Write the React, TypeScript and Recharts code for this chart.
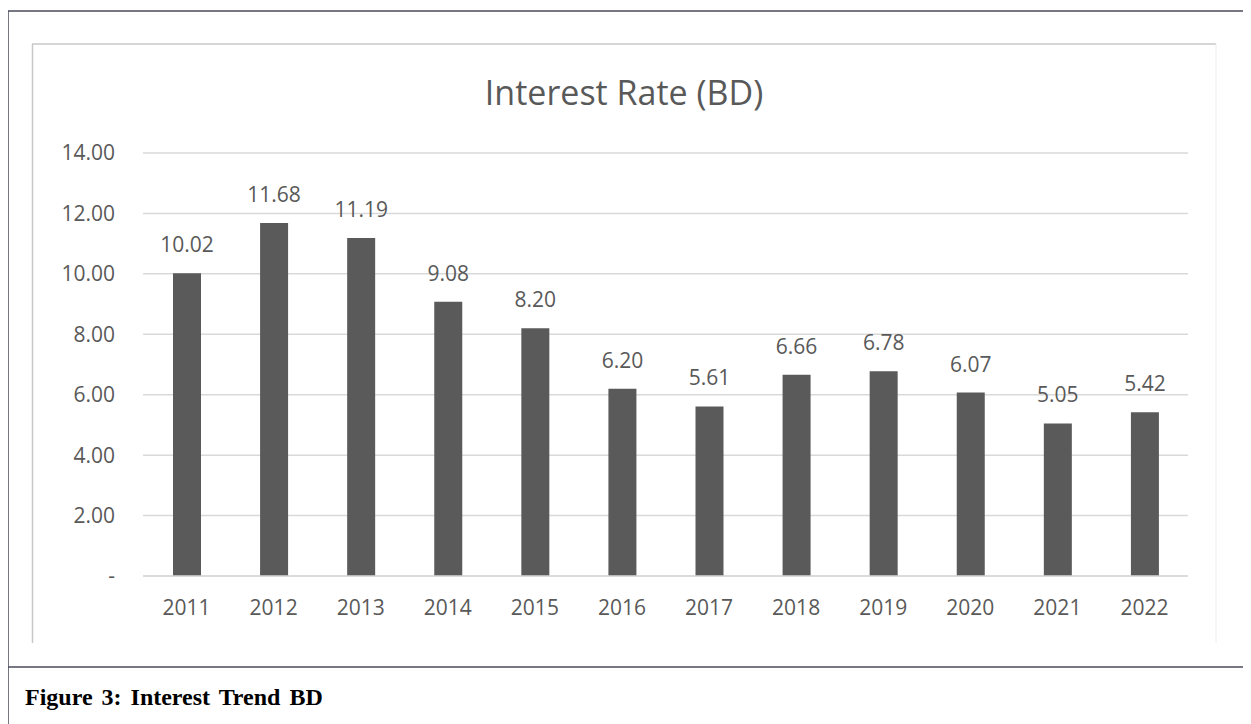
import { Bar, BarChart, CartesianGrid, LabelList, XAxis, YAxis } from "recharts";

const years = ["2011", "2012", "2013", "2014", "2015", "2016", "2017", "2018", "2019", "2020", "2021", "2022"];
const rates = [10.02, 11.68, 11.19, 9.08, 8.2, 6.2, 5.61, 6.66, 6.78, 6.07, 5.05, 5.42];
const yTicks = [0, 2, 4, 6, 8, 10, 12, 14];

const chartTitle = "Interest Rate (BD)";
const caption = "Figure 3: Interest Trend BD";

const data = years.map((year, i) => ({ year, rate: rates[i] }));

const textGray = "#595959";
const gridGray = "#d9d9d9";

const fmtTick = (v: number) => (v === 0 ? "-" : v.toFixed(2));

export default function App() {
  return (
    <div style={{ position: "relative", width: 1243, height: 716, fontFamily: "'Open Sans', sans-serif" }}>
      {/* frame, title and caption drawn in page coordinates */}
      <svg width={1243} height={716} style={{ position: "absolute", left: 0, top: 0 }}>
        <g transform="translate(-8,-8)">
          <line x1={8} y1={11} x2={1251} y2={11} stroke="#4a4a5a" strokeWidth={1.5} />
          <line x1={8} y1={11} x2={8} y2={724} stroke="#4a4a5a" strokeWidth={1.5} />
          <line x1={8} y1={667} x2={1251} y2={667} stroke="#4a4a5a" strokeWidth={1.5} />
          <line x1={32} y1={44} x2={1216} y2={44} stroke="#d6d6d6" strokeWidth={2} />
          <line x1={32.5} y1={44} x2={32.5} y2={643} stroke="#c8c8c8" strokeWidth={1.5} />
          <line x1={1216} y1={44} x2={1216} y2={643} stroke="#ececec" strokeWidth={1} />
          <text x={624} y={105} textAnchor="middle" fontSize={34} fill={textGray} fontFamily="'Open Sans', sans-serif">
            {chartTitle}
          </text>
          <text
            x={25}
            y={705}
            fontSize={24}
            fontWeight="bold"
            fill="#000"
            wordSpacing={3}
            fontFamily="'Liberation Serif', 'Times New Roman', serif"
          >
            {caption}
          </text>
        </g>
      </svg>
      <div style={{ position: "absolute", left: 24, top: 36 }}>
        <BarChart width={1184} height={599} data={data} margin={{ top: 109, right: 28, bottom: 0, left: 0 }}>
          <CartesianGrid vertical={false} stroke={gridGray} strokeWidth={1.5} />
          <XAxis
            dataKey="year"
            height={67}
            tickLine={false}
            tickSize={0}
            tickMargin={24}
            axisLine={{ stroke: gridGray, strokeWidth: 1.5 }}
            tick={{ fontSize: 21, fill: textGray }}
          />
          <YAxis
            width={111}
            domain={[0, 14]}
            ticks={yTicks}
            tickFormatter={fmtTick}
            axisLine={false}
            tickLine={false}
            tickSize={0}
            tickMargin={28}
            tick={{ fontSize: 21, fill: textGray }}
          />
          <Bar dataKey="rate" fill="#5a5a5a" barSize={28} isAnimationActive={false}>
            <LabelList
              dataKey="rate"
              position="top"
              offset={21}
              formatter={(v: any) => Number(v).toFixed(2)}
              style={{ fontSize: 21, fill: textGray }}
            />
          </Bar>
        </BarChart>
      </div>
    </div>
  );
}
